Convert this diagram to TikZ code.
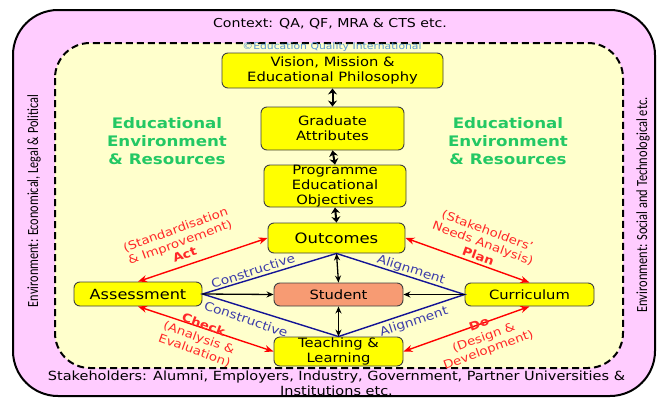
\documentclass[tikz,border=0pt]{standalone}
\usepackage{fontspec}
\usepackage{graphicx}
\setmainfont{DejaVu Sans}[FakeStretch=1.15]
\newfontfamily\sidefont{Carlito}
\usetikzlibrary{arrows.meta}
\definecolor{pinkbg}{RGB}{255,204,255}
\definecolor{creambg}{RGB}{255,255,204}
\definecolor{boxyellow}{RGB}{255,255,0}
\definecolor{salmon}{RGB}{247,155,115}
\definecolor{envgreen}{RGB}{35,200,100}
\definecolor{lblred}{RGB}{255,40,40}
\definecolor{lblblue}{RGB}{60,60,170}
\definecolor{lineblue}{RGB}{20,20,150}
\definecolor{copyblue}{RGB}{90,150,210}
\tikzset{
  ybox/.style={draw=black!75, fill=boxyellow, rounded corners=6pt, line width=0.9pt,
    align=center, inner sep=0pt, font=\fontsize{12.8}{15}\selectfont},
  redarr/.style={{Stealth[length=9pt,width=7pt]}-{Stealth[length=9pt,width=7pt]}, draw=red, line width=1.4pt},
  blkarr/.style={-{Stealth[length=7pt,width=6pt]}, line width=1.3pt},
  dblarr/.style={{Stealth[length=7pt,width=6pt]}-{Stealth[length=7pt,width=6pt]}, line width=1.3pt},
  toparr/.style={{Stealth[length=6pt,width=9pt]}-{Stealth[length=6pt,width=9pt]}, line width=2pt},
  blueline/.style={draw=lineblue, line width=1.4pt},
  redlbl/.style={text=lblred, align=center, inner sep=0pt, font=\fontsize{11.6}{13.5}\selectfont},
  bluelbl/.style={text=lblblue, inner sep=0pt, font=\fontsize{12}{14}\selectfont},
  greenlbl/.style={text=envgreen, align=center, inner sep=0pt, font=\fontsize{14.5}{18}\selectfont\bfseries},
  plain/.style={inner sep=0pt, align=center, font=\fontsize{12.3}{15}\selectfont},
}
\begin{document}
\begin{tikzpicture}[x=1pt,y=-1pt]
\useasboundingbox (0,0) rectangle (659,399);
% outer and inner frames
\draw[line width=2pt, fill=pinkbg, rounded corners=45pt] (13,10) rectangle (655,396);
\draw[line width=2pt, fill=creambg, rounded corners=35pt, dash pattern=on 7pt off 4pt] (55,43) rectangle (623,368);

% frame texts
\node[plain] (ctx) at (330,24) {Context: QA, QF, MRA \& CTS etc.};
\node[inner sep=0pt, text=copyblue, font=\fontsize{9.4}{10}\selectfont] (copy) at (332,47) {©Education Quality International};
\node[plain, font=\fontsize{12.6}{15}\selectfont] (stk) at (336.5,383.5) {Stakeholders: Alumni, Employers, Industry, Government, Partner Universities \&\\Institutions etc.};
\node[rotate=90, inner sep=0pt] (envl) at (34,201) {\resizebox{212pt}{\height}{\sidefont\fontsize{15.5}{17}\selectfont Environment: Economical, Legal \& Political}};
\node[rotate=90, inner sep=0pt] (envr) at (643,205) {\resizebox{215pt}{\height}{\sidefont\fontsize{15.5}{17}\selectfont Environment: Social and Technological etc.}};

% green labels
\node[greenlbl] (gl) at (167,141) {Educational\\Environment\\\& Resources};
\node[greenlbl] (gr) at (508,141) {Educational\\Environment\\\& Resources};

% boxes
\node[ybox, minimum width=221pt, minimum height=35pt] (vis) at (332.5,70.5) {Vision, Mission \&\\Educational Philosophy};
\node[ybox, minimum width=143pt, minimum height=43pt] (grad) at (332.5,128.5) {Graduate\\Attributes};
\node[ybox, minimum width=142pt, minimum height=42pt] (prog) at (335,186) {Programme\\Educational\\Objectives};
\node[ybox, minimum width=137pt, minimum height=30pt, font=\fontsize{14.3}{16}\selectfont] (out) at (336.5,238) {Outcomes};
\node[ybox, fill=salmon, minimum width=129pt, minimum height=23pt] (stu) at (338.5,294.5) {Student};
\node[ybox, minimum width=129pt, minimum height=29pt] (tea) at (338.5,351.5) {Teaching \&\\Learning};
\node[ybox, minimum width=128pt, minimum height=24pt, font=\fontsize{14}{16}\selectfont] (asm) at (138,294) {Assessment};
\node[ybox, minimum width=129pt, minimum height=23pt] (cur) at (529.5,294.5) {Curriculum};

% top vertical arrows
\draw[toparr] (vis.south) -- (grad.north);
\draw[toparr] (grad.south) -- (prog.north);
\draw[toparr] (prog.south) -- (out.north);

% blue alignment lines
\draw[blueline] (asm.east) -- (out.south) -- (cur.west) -- (tea.north) -- cycle;

% black arrows
\draw[dblarr] (out.south) -- (stu.north);
\draw[dblarr] (stu.south) -- (tea.north);
\draw[blkarr] (asm.east) -- (stu.west);
\draw[blkarr] (cur.west) -- (stu.east);

% red PDCA arrows
\draw[redarr] (asm.north) -- (out.west);
\draw[redarr] (asm.south) -- (tea.west);
\draw[redarr] (out.east) -- (cur.north);
\draw[redarr] (cur.south) -- (tea.east);

% red labels
\node[redlbl, rotate=20] (act) at (180,242) {(Standardisation\\\& Improvement)\\\textbf{Act}};
\node[redlbl, rotate=-20] (chk) at (199,338) {\textbf{Check}\\(Analysis \&\\Evaluation)};
\node[redlbl, rotate=-20] (pln) at (483,243) {(Stakeholders'\\Needs Analysis)\\\textbf{Plan}};
\node[redlbl, rotate=20] (do) at (484,338) {\textbf{Do}\\(Design \&\\Development)};

% blue labels
\node[bluelbl, rotate=18] (c1) at (253,271) {Constructive};
\node[bluelbl, rotate=-19] (c2) at (246,319) {Constructive};
\node[bluelbl, rotate=-18] (a1) at (411,270) {Alignment};
\node[bluelbl, rotate=18] (a2) at (414,322) {Alignment};
\end{tikzpicture}
\end{document}
